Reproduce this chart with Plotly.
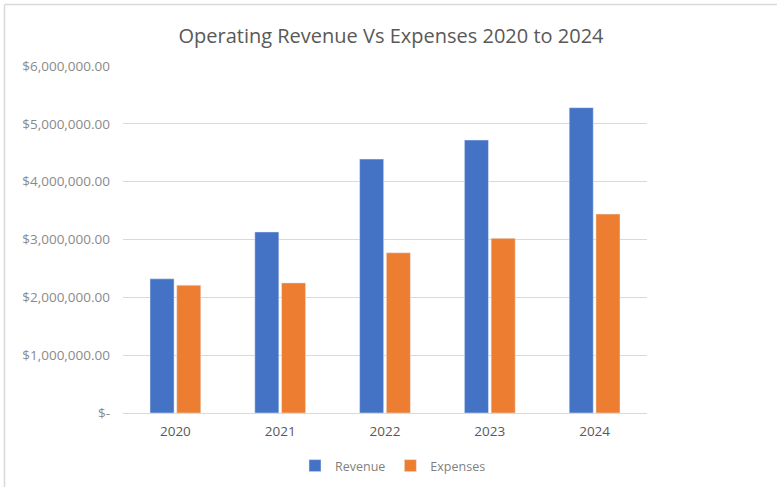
import plotly.graph_objects as go

years = ["2020", "2021", "2022", "2023", "2024"]
revenue = [2320000, 3130000, 4390000, 4720000, 5280000]
expenses = [2210000, 2250000, 2770000, 3020000, 3440000]
y_tick_vals = [0, 1000000, 2000000, 3000000, 4000000, 5000000, 6000000]
y_tick_text = ["$-", "$1,000,000.00", "$2,000,000.00", "$3,000,000.00",
               "$4,000,000.00", "$5,000,000.00", "$6,000,000.00"]

W, H = 777, 487
L, R, T, B = 123, 130, 66, 74
pw, ph = W - L - R, H - T - B

def px_x(p):
    return (p - L) / pw

def px_y(p):
    return (H - B - p) / ph

fig = go.Figure()
fig.add_trace(go.Bar(x=years, y=revenue, name="Revenue", marker_color="#4472C4"))
fig.add_trace(go.Bar(x=years, y=expenses, name="Expenses", marker_color="#ED7D31"))

font_family = "Open Sans, Noto Sans, sans-serif"

fig.update_layout(
    width=W, height=H,
    margin=dict(l=L, r=R, t=T, b=B, autoexpand=False),
    paper_bgcolor="white", plot_bgcolor="white",
    barmode="group", bargap=0.49, bargroupgap=0.1,
    title=dict(text="Operating Revenue Vs Expenses 2020 to 2024",
               x=px_x(391), xref="paper", xanchor="center",
               y=1 - 36 / H, yanchor="middle",
               font=dict(family=font_family, size=20, color="#595959")),
    font=dict(family=font_family, color="#7f7f7f"),
    showlegend=True,
    legend=dict(orientation="h", x=px_x(393), xanchor="center",
                y=px_y(466), yanchor="middle",
                font=dict(size=12.5, color="#7f7f7f"),
                traceorder="normal"),
    shapes=[
        dict(type="line", xref="paper", yref="paper",
             x0=px_x(4.5), x1=px_x(800), y0=px_y(4.5), y1=px_y(4.5),
             line=dict(color="#d9d9d9", width=1.5)),
        dict(type="line", xref="paper", yref="paper",
             x0=px_x(4.5), x1=px_x(4.5), y0=px_y(4.5), y1=px_y(500),
             line=dict(color="#d9d9d9", width=1.5)),
    ],
)
fig.update_xaxes(showgrid=False, showline=True, linecolor="#d9d9d9", linewidth=1,
                 ticks="", tickfont=dict(size=13.5, color="#595959"),
                 ticklabelstandoff=6)
fig.update_yaxes(range=[0, 6000000], tickvals=y_tick_vals, ticktext=y_tick_text,
                 showgrid=True, gridcolor="#d9d9d9", gridwidth=1,
                 zeroline=False, showline=False, ticks="",
                 tickfont=dict(size=13.5, color="#8a8a8a"),
                 ticklabelstandoff=12)

fig.write_html("out.html",
               config={"displayModeBar": False},
               post_script="document.body.style.margin='0';document.body.style.overflow='hidden';")
